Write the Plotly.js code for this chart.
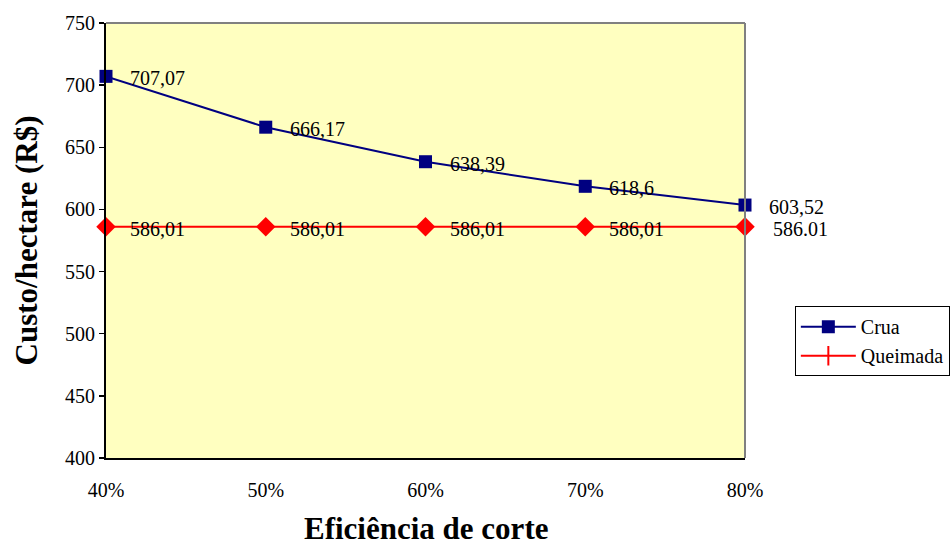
<!DOCTYPE html>
<html>
<head>
<meta charset="utf-8">
<script src="https://cdn.plot.ly/plotly-3.0.1.min.js"></script>
<style>html,body{margin:0;padding:0;background:#fff;}#chart{width:950px;height:547px;}</style>
</head>
<body>
<div id="chart"></div>
<script>
var efficiency = [40, 50, 60, 70, 80];
var tickLabels = ["40%", "50%", "60%", "70%", "80%"];
var crua = [707.07, 666.17, 638.39, 618.6, 603.52];
var queimada = [586.01, 586.01, 586.01, 586.01, 586.01];
var cruaLabels = ["707,07", "666,17", "638,39", "618,6", "603,52"];
var queimadaLabels = ["586,01", "586,01", "586,01", "586,01", "586.01"];
var xTitle = "Eficiência de corte";
var yTitle = "Custo/hectare (R$)";

var FONT = "Liberation Serif";

var traces = [
  {x: efficiency, y: queimada, mode: "lines+markers", name: "Queimada", showlegend: false,
   line: {color: "#FF0000", width: 2}, marker: {symbol: "diamond", size: 15, color: "#FF0000"}, cliponaxis: false},
  {x: efficiency, y: crua, mode: "lines+markers", name: "Crua",
   line: {color: "#000080", width: 2}, marker: {symbol: "square", size: 13, color: "#000080"}, cliponaxis: false},
  {x: [null], y: [null], mode: "lines+markers", name: "Queimada",
   line: {color: "#FF0000", width: 2}, marker: {symbol: "line-ns-open", size: 14, color: "#FF0000", line: {color: "#FF0000", width: 2}}}
];

var annotations = [];
efficiency.forEach(function (xv, i) {
  annotations.push({x: xv, y: crua[i], xref: "x", yref: "y", text: cruaLabels[i], showarrow: false,
    xanchor: "left", yanchor: "middle", xshift: 22, yshift: -2, font: {family: FONT, size: 20, color: "#000"}});
  annotations.push({x: xv, y: queimada[i], xref: "x", yref: "y", text: queimadaLabels[i], showarrow: false,
    xanchor: "left", yanchor: "middle", xshift: (i === efficiency.length - 1 ? 26 : 22), yshift: -2,
    font: {family: FONT, size: 20, color: "#000"}});
});
annotations.push({x: 0.5, y: 0, xref: "paper", yref: "paper", text: "<b>" + xTitle + "</b>", showarrow: false,
  xanchor: "center", yanchor: "middle", yshift: -70,
  font: {family: FONT, size: 31, color: "#000"}});

var layout = {
  width: 950, height: 547,
  margin: {l: 106, r: 205, t: 23, b: 89, autoexpand: false},
  paper_bgcolor: "#FFFFFF",
  plot_bgcolor: "#FFFFC0",
  font: {family: FONT, size: 20, color: "#000"},
  showlegend: true,
  legend: {x: 1.078, y: 0.349, xanchor: "left", yanchor: "top", bgcolor: "#FFFFFF",
    bordercolor: "#000", borderwidth: 1, font: {family: FONT, size: 20, color: "#000"},
    traceorder: "normal", tracegroupgap: 0, itemwidth: 55},
  xaxis: {
    range: [40, 80], tickvals: efficiency, ticktext: tickLabels, showgrid: false, zeroline: false,
    showline: true, linecolor: "#000", linewidth: 2, ticks: "", ticklabelstandoff: 13,
    tickfont: {family: FONT, size: 20, color: "#000"}
  },
  yaxis: {
    range: [400, 750], dtick: 50, showgrid: false, zeroline: false,
    showline: true, linecolor: "#000", linewidth: 2, ticks: "outside", ticklen: 5, tickwidth: 1.5, tickcolor: "#000",
    tickfont: {family: FONT, size: 20, color: "#000"},
    title: {text: "<b>" + yTitle + "</b>", font: {family: FONT, size: 31, color: "#000"}, standoff: 18}
  },
  shapes: [
    {type: "line", xref: "paper", yref: "paper", x0: 0, x1: 1, y0: 1, y1: 1, line: {color: "#808080", width: 2}},
    {type: "line", xref: "paper", yref: "paper", x0: 1, x1: 1, y0: 0, y1: 1, line: {color: "#808080", width: 2}}
  ],
  annotations: annotations
};

Plotly.newPlot("chart", traces, layout, {displayModeBar: false, staticPlot: true});
</script>
</body>
</html>
